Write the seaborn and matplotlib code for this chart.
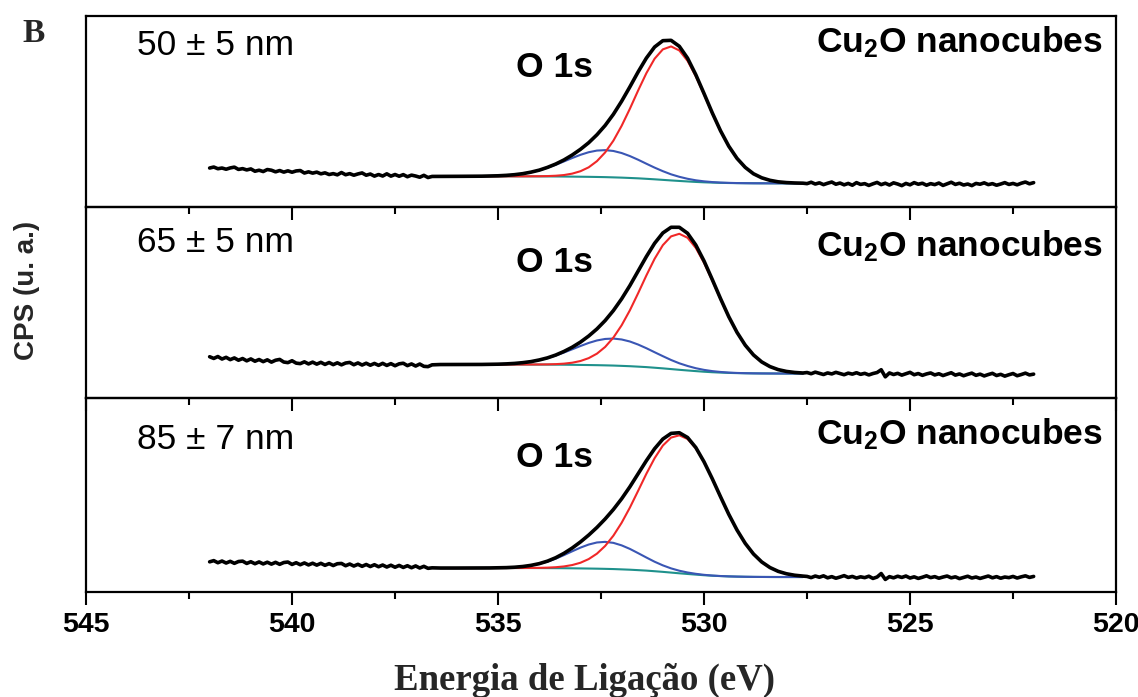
import numpy as np
import pandas as pd
import matplotlib
matplotlib.use("Agg")
import matplotlib.pyplot as plt
from matplotlib.ticker import MultipleLocator
import seaborn as sns

# ---------------- data (arbitrary CPS units) ----------------
# fitted-region energy grid: 536.4 -> 527.6 eV, 0.2 eV step ; noisy raw data: 0.1 eV step
fit_start, fit_step = 536.4, 0.2
left_start, right_start, raw_step = 542.0, 527.5, 0.1

# ---- panel 1 : 50 +- 5 nm
p1_left = [39.0, 40.0, 38.3, 39.0, 37.8, 39.1, 39.9, 37.6, 38.4, 37.1,
           38.1, 35.8, 36.8, 35.5, 37.5, 36.8, 35.2, 36.5, 34.9, 36.2,
           34.8, 36.1, 36.5, 34.0, 35.2, 33.9, 34.9, 33.2, 34.2, 32.5,
           33.4, 32.2, 34.5, 32.3, 33.4, 31.8, 33.1, 34.1, 31.8, 33.0,
           30.9, 32.5, 31.0, 33.2, 30.9, 32.5, 30.8, 32.4, 30.3, 31.9,
           31.0, 29.8, 31.7, 29.5, 30.6]
p1_right = [23.4, 24.8, 23.0, 24.2, 22.4, 23.8, 25.0, 22.8, 24.0, 22.2,
            23.6, 21.8, 24.4, 22.6, 23.4, 21.6, 23.2, 24.6, 22.4, 23.8,
            22.0, 24.2, 23.0, 21.4, 23.6, 22.2, 24.4, 22.8, 23.8, 21.8,
            23.4, 22.4, 24.0, 21.6, 23.2, 24.8, 22.6, 23.8, 22.0, 23.0,
            21.4, 23.6, 22.8, 24.2, 22.4, 23.4, 21.8, 23.0, 24.4, 22.6,
            23.6, 22.2, 23.8, 25.0, 23.2, 24.4]
p1_bg = [30.70, 30.70, 30.70, 30.70, 30.70, 30.70, 30.70, 30.70,
         30.70, 30.70, 30.69, 30.67, 30.64, 30.60, 30.55, 30.48, 30.40, 30.30,
         30.20, 30.06, 29.90, 29.66, 29.40, 29.06, 28.70, 28.22, 27.72, 27.16,
         26.60, 26.08, 25.58, 25.10, 24.72, 24.42, 24.18, 24.02, 23.90, 23.82,
         23.76, 23.73, 23.71, 23.70, 23.70, 23.70, 23.70]
p1_red = [0, 0, 0, 0, 0, 0, 0, 0,
          0, 0, 0, 0.07, 0.15, 0.35, 0.75, 1.5, 3.0, 5.5,
          9.5, 15.8, 24.7, 36.7, 51.8, 69.2, 87.8, 105.6, 120.6, 130.5,
          134.0, 130.5, 120.6, 105.6, 87.8, 69.2, 51.8, 36.7, 24.7, 15.8,
          9.5, 5.5, 3.0, 1.5, 0.75, 0.35, 0.15]
p1_blue = [0, 0, 0, 0.03, 0.07, 0.15, 0.29, 0.54,
           0.97, 1.64, 2.67, 4.15, 6.1, 8.7, 11.7, 15.1, 18.6, 21.9,
           24.6, 26.4, 27.0, 26.4, 24.6, 21.9, 18.6, 15.1, 11.7, 8.7,
           6.1, 4.15, 2.67, 1.64, 0.97, 0.54, 0.29, 0.15, 0.07, 0.03,
           0, 0, 0, 0, 0, 0, 0]

# ---- panel 2 : 65 +- 5 nm
p2_left = [41.3, 39.6, 41.5, 39.0, 40.7, 38.4, 40.1, 37.8, 39.5, 37.2,
           39.1, 36.8, 38.5, 36.4, 38.2, 35.9, 37.8, 38.6, 36.0, 35.4,
           37.3, 34.9, 34.4, 36.2, 34.1, 35.9, 33.9, 35.7, 33.6, 35.5,
           33.4, 35.2, 33.2, 35.0, 35.6, 33.3, 35.1, 33.0, 34.8, 32.8,
           34.6, 32.7, 34.7, 32.6, 34.4, 32.3, 34.2, 34.8, 32.4, 34.1,
           32.0, 34.0, 31.7, 31.4, 33.2]
p2_right = [25.5, 24.3, 25.9, 24.7, 23.5, 25.1, 24.1, 25.7, 24.5, 23.3,
            24.9, 23.9, 25.3, 23.7, 24.7, 23.1, 24.5, 25.5, 28.3, 21.2,
            25.1, 23.5, 24.7, 22.9, 24.3, 25.7, 23.3, 24.5, 22.7, 24.1,
            25.1, 23.1, 24.3, 22.5, 23.9, 25.3, 22.9, 24.1, 22.3, 23.7,
            24.9, 22.7, 23.9, 22.1, 23.5, 24.7, 22.5, 23.7, 21.9, 23.3,
            24.5, 22.3, 23.5, 24.9, 23.1, 23.9]
p2_bg = [33.50, 33.50, 33.50, 33.50, 33.50, 33.50, 33.50, 33.50,
         33.50, 33.50, 33.50, 33.49, 33.46, 33.42, 33.37, 33.31, 33.22, 33.11,
         32.99, 32.86, 32.68, 32.47, 32.16, 31.83, 31.39, 30.93, 30.31, 29.67,
         28.95, 28.23, 27.56, 26.92, 26.30, 25.81, 25.43, 25.12, 24.91, 24.76,
         24.65, 24.58, 24.54, 24.51, 24.50, 24.50, 24.50]
p2_red = [0, 0, 0, 0, 0, 0, 0, 0,
          0, 0, 0.01, 0.04, 0.11, 0.24, 0.52, 1.07, 2.1, 3.9,
          6.9, 11.5, 18.4, 28.0, 40.6, 55.9, 73.4, 91.6, 108.9, 123.2,
          132.7, 136.0, 132.7, 123.2, 108.9, 91.6, 73.4, 55.9, 40.6, 28.0,
          18.4, 11.5, 6.9, 3.9, 2.1, 1.07, 0.52]
p2_blue = [0, 0, 0, 0.02, 0.05, 0.09, 0.18, 0.35,
           0.64, 1.11, 1.85, 2.9, 4.5, 6.5, 9.1, 12.2, 15.5, 18.9,
           22.1, 24.7, 26.4, 27.0, 26.4, 24.7, 22.1, 18.9, 15.5, 12.2,
           9.1, 6.5, 4.5, 2.9, 1.85, 1.11, 0.64, 0.35, 0.18, 0.09,
           0.05, 0.02, 0, 0, 0, 0, 0]

# ---- panel 3 : 85 +- 7 nm
p3_left = [30.2, 31.4, 29.3, 31.0, 29.0, 30.7, 28.7, 30.5, 30.9, 28.6,
           30.3, 28.3, 30.1, 28.1, 29.8, 27.9, 29.7, 27.7, 29.5, 30.0,
           27.6, 29.3, 27.3, 29.1, 27.1, 28.8, 26.9, 28.7, 26.7, 28.4,
           26.5, 28.3, 28.6, 26.3, 28.0, 26.0, 27.7, 25.7, 27.5, 25.5,
           27.3, 25.3, 27.0, 25.0, 26.8, 24.8, 26.6, 24.6, 26.3, 24.3,
           26.1, 24.0, 25.7, 23.7, 24.2]
p3_right = [15.6, 14.4, 16.0, 14.8, 16.2, 14.2, 15.4, 13.8, 15.0, 16.4,
            14.6, 15.6, 14.0, 15.2, 14.4, 15.8, 13.6, 15.0, 18.5, 12.6,
            15.4, 14.2, 15.8, 14.6, 16.0, 14.0, 15.2, 13.6, 14.8, 16.2,
            14.4, 15.4, 13.8, 15.0, 16.0, 14.2, 15.2, 13.4, 14.6, 15.8,
            14.0, 15.0, 13.6, 14.8, 16.0, 14.2, 15.4, 13.8, 15.0, 14.4,
            15.6, 14.0, 15.2, 16.2, 14.6, 15.6]
p3_bg = [24.00, 24.00, 24.00, 24.00, 24.00, 24.00, 24.00, 24.00,
         24.00, 24.00, 24.00, 23.99, 23.96, 23.92, 23.87, 23.81, 23.72, 23.61,
         23.49, 23.36, 23.18, 22.97, 22.66, 22.33, 21.89, 21.43, 20.81, 20.17,
         19.45, 18.73, 18.06, 17.42, 16.80, 16.31, 15.93, 15.62, 15.41, 15.26,
         15.15, 15.08, 15.04, 15.01, 15.00, 15.00, 15.00]
p3_red = [0, 0, 0, 0, 0, 0, 0, 0,
          0, 0.01, 0.04, 0.11, 0.23, 0.47, 0.94, 1.79, 3.26, 5.67,
          9.45, 15.0, 22.9, 33.4, 46.6, 62.1, 79.3, 96.8, 113.0, 126.3,
          135.0, 138.0, 135.0, 126.3, 113.0, 96.8, 79.3, 62.1, 46.6, 33.4,
          22.9, 15.0, 9.45, 5.67, 3.26, 1.79, 0.94]
p3_blue = [0, 0, 0, 0, 0.02, 0.04, 0.09, 0.2,
           0.41, 0.80, 1.48, 2.57, 4.2, 6.5, 9.5, 13.1, 17.0, 20.8,
           24.0, 26.2, 27.0, 26.2, 24.0, 20.8, 17.0, 13.1, 9.5, 6.5,
           4.2, 2.57, 1.48, 0.80, 0.41, 0.2, 0.09, 0.04, 0.02, 0,
           0, 0, 0, 0, 0, 0, 0]

size_labels = ["50 ± 5 nm", "65 ± 5 nm", "85 ± 7 nm"]
sample_label = "Cu$_2$O nanocubes"
peak_label = "O 1s"
x_ticks = [545, 540, 535, 530, 525, 520]
x_label = "Energia de Ligação (eV)"
y_label = "CPS (u. a.)"
panel_letter = "B"

panels = [
    (p1_left, p1_right, p1_bg, p1_red, p1_blue),
    (p2_left, p2_right, p2_bg, p2_red, p2_blue),
    (p3_left, p3_right, p3_bg, p3_red, p3_blue),
]

# ---------------- style ----------------
sns.set_theme(style="white")
plt.rcParams["font.family"] = ["Liberation Sans", "DejaVu Sans"]
plt.rcParams["mathtext.fontset"] = "custom"
plt.rcParams["mathtext.bf"] = "Liberation Sans:bold"
plt.rcParams["mathtext.rm"] = "Liberation Sans:bold"
plt.rcParams["mathtext.default"] = "bf"

C_BLACK = "#000000"
C_RED = "#f02828"
C_BLUE = "#3a56b4"
C_TEAL = "#1f918c"

fig = plt.figure(figsize=(11.38, 6.97), dpi=100)
fig.patch.set_facecolor("white")
gs = fig.add_gridspec(3, 1, left=0.0756, right=0.9807, top=0.977, bottom=0.1506,
                      hspace=0, height_ratios=[191, 191, 194])
ylims = [191, 191, 194]
text_y = [  # (size label, O 1s, Cu2O) vertical positions in axes fraction
    (0.848, 0.733, 0.864),
    (0.812, 0.707, 0.796),
    (0.784, 0.691, 0.814),
]

axes = []
for i, (lft, rgt, bg, red, blue) in enumerate(panels):
    ax = fig.add_subplot(gs[i])
    ax.patch.set_alpha(0)
    axes.append(ax)
    bg = np.array(bg)
    red = np.array(red)
    blue = np.array(blue)
    e_fit = np.round(fit_start - fit_step * np.arange(len(bg)), 2)
    e_left = np.round(left_start - raw_step * np.arange(len(lft)), 2)
    e_right = np.round(right_start - raw_step * np.arange(len(rgt)), 2)
    envelope = bg + red + blue
    spec_x = np.concatenate([e_left, e_fit, e_right])
    spec_y = np.concatenate([np.array(lft), envelope, np.array(rgt)])

    df_fit = pd.DataFrame({"E": e_fit, "bg": bg, "red": bg + red, "blue": bg + blue})
    df_spec = pd.DataFrame({"E": spec_x, "cps": spec_y})

    sns.lineplot(data=df_fit, x="E", y="bg", ax=ax, color=C_TEAL, lw=1.5,
                 estimator=None, zorder=2)
    sns.lineplot(data=df_fit, x="E", y="blue", ax=ax, color=C_BLUE, lw=1.5,
                 estimator=None, zorder=3)
    sns.lineplot(data=df_fit, x="E", y="red", ax=ax, color=C_RED, lw=1.5,
                 estimator=None, zorder=4)
    sns.lineplot(data=df_spec, x="E", y="cps", ax=ax, color=C_BLACK, lw=2.6,
                 estimator=None, zorder=5)

    ax.set_xlim(545, 520)
    ax.set_ylim(0, ylims[i])
    ax.set_xlabel("")
    ax.set_ylabel("")
    ax.set_yticks([])
    ax.set_xticks(x_ticks)
    ax.xaxis.set_minor_locator(MultipleLocator(2.5))
    ax.tick_params(axis="x", which="major", direction="out", length=9.5, width=1.5,
                   color="black", bottom=True, top=False, pad=5,
                   labelsize=20.5, labelcolor="black")
    ax.tick_params(axis="x", which="minor", direction="out", length=5, width=1.5,
                   color="black", bottom=True, top=False)
    if i < 2:
        ax.tick_params(axis="x", which="both", labelbottom=False)
    else:
        for lab in ax.get_xticklabels():
            lab.set_fontweight("bold")
    for sp in ax.spines.values():
        sp.set_visible(True)
        sp.set_color("black")
        sp.set_linewidth(1.6)

    ys, yo, yc = text_y[i]
    ax.text(0.0495, ys, size_labels[i], transform=ax.transAxes, ha="left", va="center",
            fontsize=25.5, color="black")
    ax.text(0.455, yo, peak_label, transform=ax.transAxes, ha="center", va="center",
            fontsize=25.5, fontweight="bold", color="black")
    ax.text(0.987, yc, sample_label, transform=ax.transAxes, ha="right", va="center",
            fontsize=25.5, fontweight="bold", color="black")

fig.text(585 / 1138, 0.010, x_label, ha="center", va="baseline",
         fontsize=26.5, fontweight="bold", family=["Liberation Serif", "DejaVu Serif"])
fig.text(27 / 1138, 1 - 290 / 697, y_label, ha="center", va="center", rotation=90,
         fontsize=20, fontweight="bold")
fig.text(22 / 1138, 1 - 18 / 697, panel_letter, ha="left", va="top",
         fontsize=24, fontweight="bold", family=["Liberation Serif", "DejaVu Serif"])

fig.savefig("out.png", dpi=100, facecolor="white")
